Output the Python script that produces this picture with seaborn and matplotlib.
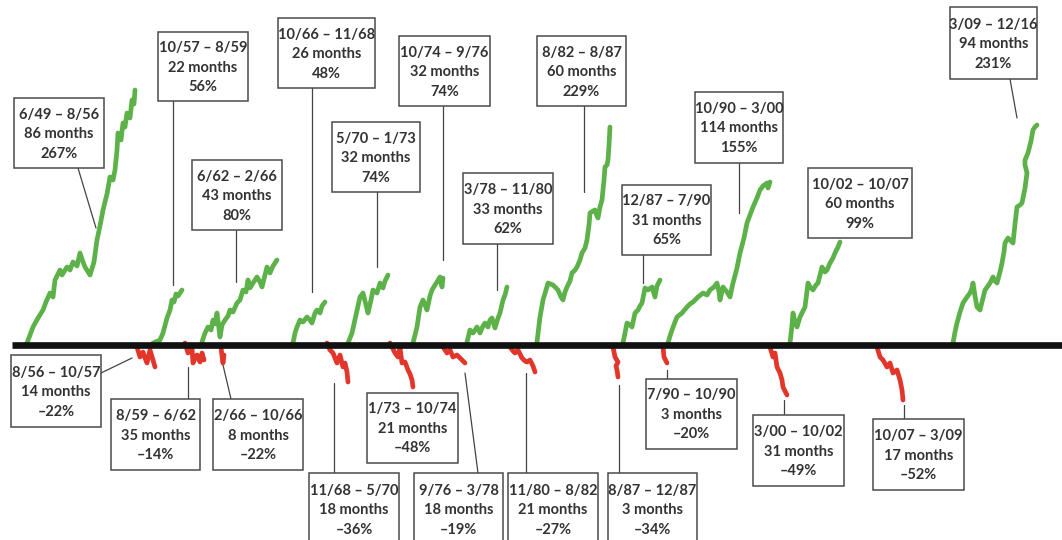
import numpy as np
import pandas as pd
import matplotlib.pyplot as plt
import seaborn as sns
from matplotlib.patches import Rectangle

# bull markets (x = time position, y = drawn height, px)
bull_paths = [
    [(27,343),(33,327),(38,318),(43,310),(46,302),(50,293),(53,297),(55,280),(60,270),(62,275),(67,267),(70,270),(73,262),(77,266),(80,253),(83,262),(85,267),(90,275),(94,262),(97,240),(100,226),(103,210),(107,194),(110,177),(113,180),(115,170),(117,150),(118,133),(121,140),(123,123),(125,127),(127,113),(130,118),(132,100),(134,104),(135,90)],
    [(153,343),(160,340),(163,333),(167,318),(170,310),(172,300),(174,302),(176,294),(178,296),(182,290)],
    [(202,342),(205,333),(208,327),(211,330),(213,320),(215,324),(217,313),(220,337),(222,325),(225,320),(228,316),(230,310),(233,312),(237,303),(240,300),(243,290),(246,292),(248,280),(250,288),(253,283),(257,277),(260,282),(262,287),(265,275),(267,267),(270,273),(273,266),(277,260)],
    [(293,343),(295,333),(297,327),(300,320),(303,322),(307,317),(310,320),(312,323),(315,313),(317,310),(320,313),(322,306),(325,302)],
    [(348,343),(352,333),(356,315),(360,297),(363,293),(366,305),(368,313),(371,300),(373,290),(377,293),(380,283),(383,288),(385,281),(388,275)],
    [(413,343),(415,335),(417,327),(420,307),(423,300),(425,305),(427,310),(430,296),(432,290),(435,285),(437,282),(440,277),(442,287),(443,278)],
    [(467,342),(470,330),(473,333),(477,327),(480,333),(483,326),(485,323),(488,327),(490,320),(492,318),(495,328),(498,318),(500,313),(503,300),(505,295),(507,287)],
    [(537,342),(540,317),(543,300),(546,290),(548,283),(553,285),(556,288),(558,290),(561,297),(563,300),(565,292),(567,287),(570,281),(572,273),(575,270),(577,267),(580,260),(582,253),(585,248),(587,240),(589,225),(590,213),(593,211),(595,210),(597,216),(598,218),(600,207),(602,200),(604,180),(605,167),(607,165),(608,160),(609,145),(610,127)],
    [(623,343),(625,333),(627,323),(630,325),(632,327),(635,313),(638,310),(640,306),(642,303),(644,293),(645,288),(648,290),(652,287),(655,297),(657,286),(660,280)],
    [(668,343),(670,336),(672,330),(675,322),(677,317),(682,313),(687,307),(690,304),(693,302),(698,297),(703,293),(707,295),(710,290),(714,287),(717,283),(719,292),(720,300),(723,287),(727,292),(730,297),(733,283),(737,268),(740,253),(744,238),(747,223),(750,215),(753,207),(757,198),(760,190),(763,186),(767,183),(768,188),(770,182)],
    [(790,343),(792,325),(793,313),(795,322),(797,327),(800,317),(803,311),(805,307),(808,283),(810,287),(813,290),(816,285),(818,283),(820,275),(822,267),(825,272),(827,270),(830,263),(833,258),(835,253),(838,247),(840,242)],
    [(953,343),(955,332),(957,323),(960,312),(963,303),(967,297),(970,293),(972,288),(973,283),(975,296),(977,307),(980,310),(983,298),(985,290),(988,286),(990,283),(993,277),(995,281),(997,283),(1000,272),(1002,263),(1004,252),(1005,243),(1008,238),(1010,240),(1013,243),(1015,224),(1017,207),(1020,205),(1022,203),(1025,188),(1027,173),(1025,165),(1025,160),(1028,153),(1031,141),(1033,130),(1035,127),(1037,125)],
]

# bear markets
bear_paths = [
    [(137,347),(140,357),(143,352),(145,358),(147,363),(150,350),(153,360),(155,367)],
    [(185,343),(188,353),(190,350),(192,348),(193,363),(195,358),(197,355),(200,362),(202,353),(204,360)],
    [(221,347),(222,356),(223,363),(224,355)],
    [(327,343),(330,350),(333,353),(335,358),(337,363),(340,355),(343,367),(345,363),(347,372),(348,382)],
    [(390,343),(393,349),(395,353),(398,357),(400,348),(402,363),(405,362),(408,370),(410,374),(412,380),(413,387)],
    [(443,347),(447,353),(450,350),(453,357),(457,355),(460,358),(462,360),(465,363)],
    [(510,347),(513,351),(515,353),(518,350),(522,358),(525,361),(527,362),(530,360),(533,366),(535,372)],
    [(613,347),(615,357),(618,362),(616,366),(617,370),(618,377)],
    [(663,347),(664,357),(667,363)],
    [(770,347),(773,357),(775,353),(777,367),(780,373),(782,380),(783,387),(785,391),(787,395)],
    [(877,347),(880,357),(883,360),(887,367),(890,363),(893,373),(897,370),(900,380),(902,390),(903,400)],
]

bull_periods = ["6/49 – 8/56", "10/57 – 8/59", "6/62 – 2/66", "10/66 – 11/68", "5/70 – 1/73",
                "10/74 – 9/76", "3/78 – 11/80", "8/82 – 8/87", "12/87 – 7/90", "10/90 – 3/00",
                "10/02 – 10/07", "3/09 – 12/16"]
bull_months = [86, 22, 43, 26, 32, 32, 33, 60, 31, 114, 60, 94]
bull_gain = [267, 56, 80, 48, 74, 74, 62, 229, 65, 155, 99, 231]

bear_periods = ["8/56 – 10/57", "8/59 – 6/62", "2/66 – 10/66", "11/68 – 5/70", "1/73 – 10/74",
                "9/76 – 3/78", "11/80 – 8/82", "8/87 – 12/87", "7/90 – 10/90", "3/00 – 10/02",
                "10/07 – 3/09"]
bear_months = [14, 35, 8, 18, 21, 18, 21, 3, 3, 31, 17]
bear_loss = [22, 14, 22, 36, 48, 19, 27, 34, 20, 49, 52]

# box layout (x0, y0, x1, y1) and leader lines
bull_boxes = [(14,98,104,168), (158,32,248,101), (192,160,282,230), (278,18,375,88),
              (332,122,420,192), (399,36,490,106), (463,173,553,244), (537,36,626,106),
              (622,185,711,255), (695,92,783,163), (808,168,912,238), (950,7,1037,79)]
bull_leaders = [((78,168),(96,228)), ((173,101),(173,285)), ((236,230),(236,282)),
                ((312,88),(312,292)), ((377,192),(377,267)), ((443,106),(443,260)),
                ((497,244),(497,290)), ((584,106),(584,192)), ((643,255),(643,283)),
                ((739,163),(739,213)), None, ((1010,79),(1017,118))]
bear_boxes = [(11,355,101,427), (111,399,200,470), (213,399,303,470), (309,473,399,546),
              (367,393,458,463), (414,473,503,546), (508,473,598,546), (608,473,697,546),
              (646,379,737,449), (753,415,844,486), (873,419,964,490)]
bear_leaders = [((101,373),(132,358)), ((188,399),(188,367)), ((231,399),(223,365)),
                ((334,473),(334,383)), None, ((478,473),(465,373)), ((526,473),(526,373)),
                ((619,473),(619,385)), ((667,379),(667,370)), ((784,415),(784,400)),
                ((904,419),(904,405))]

rows = []
for i, p in enumerate(bull_paths):
    for x, y in p:
        rows.append({"seg": f"bull{i}", "kind": "bull", "x": x, "y": y})
for i, p in enumerate(bear_paths):
    for x, y in p:
        rows.append({"seg": f"bear{i}", "kind": "bear", "x": x, "y": y})
df = pd.DataFrame(rows)

sns.set_style("white")
plt.rcParams['font.family'] = ['Lato', 'DejaVu Sans']

fig = plt.figure(figsize=(10.62, 5.40), dpi=100)
ax = fig.add_axes([0, 0, 1, 1])

sns.lineplot(data=df, x="x", y="y", hue="kind", units="seg", estimator=None, sort=False,
             palette={"bull": "#5cb249", "bear": "#e2362a"}, linewidth=3.4, legend=False,
             ax=ax, zorder=2)
for ln in ax.lines:
    ln.set_solid_joinstyle("round")

ax.plot([12, 1062], [345, 345], color="#111111", linewidth=4.8, solid_capstyle="butt", zorder=3)

def label(box, leader, text):
    x0, y0, x1, y1 = box
    ax.add_patch(Rectangle((x0, y0), x1 - x0, y1 - y0, facecolor="white",
                           edgecolor="#4a4a4a", linewidth=1.1, zorder=4))
    ax.text((x0 + x1) / 2, (y0 + y1) / 2 + 1, text, ha="center", va="center",
            fontsize=10.5, fontweight="bold", color="#333333", linespacing=1.5, zorder=5)
    if leader is not None:
        (a, b), (c, d) = leader
        ax.plot([a, c], [b, d], color="#444444", linewidth=0.9, zorder=1)

for box, lead, per, m, g in zip(bull_boxes, bull_leaders, bull_periods, bull_months, bull_gain):
    label(box, lead, f"{per}\n{m} months\n{g}%")
for box, lead, per, m, g in zip(bear_boxes, bear_leaders, bear_periods, bear_months, bear_loss):
    label(box, lead, f"{per}\n{m} months\n–{g}%")

ax.set_xlim(0, 1062)
ax.set_ylim(540, 0)
ax.axis("off")

fig.savefig("out.png", dpi=100)
